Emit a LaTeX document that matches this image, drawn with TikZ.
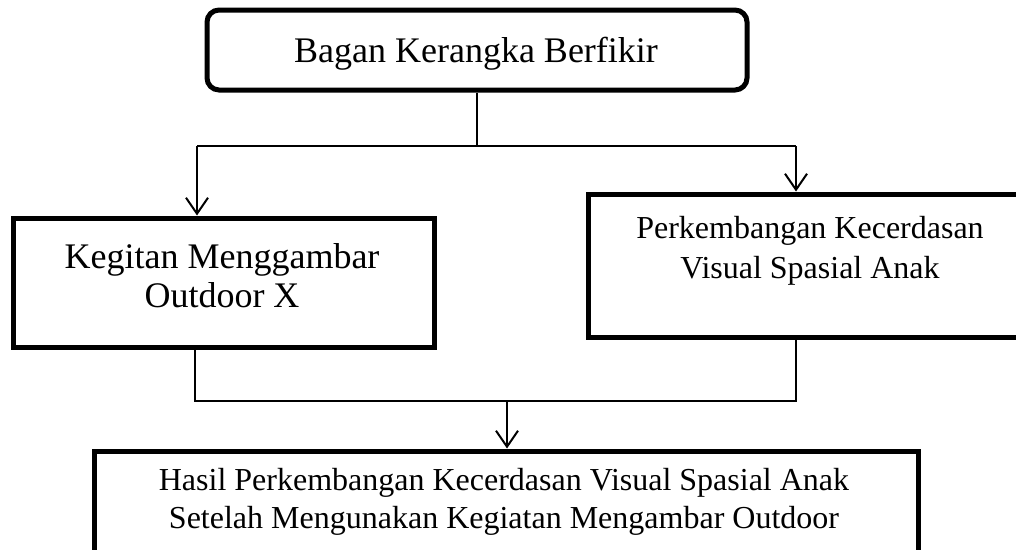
\documentclass[tikz,border=0pt]{standalone}
\usepackage{fontspec}
\setmainfont{Liberation Serif}
\usetikzlibrary{arrows.meta}
\tikzset{
  boxnode/.style={draw, line width=5pt, inner sep=0pt, fill=white},
  roundbox/.style={boxnode, rounded corners=12pt},
  linetxt/.style={inner sep=0pt, anchor=base, font=\fontsize{32}{38}\selectfont},
  bigtxt/.style={linetxt, font=\fontsize{36}{42}\selectfont},
  conn/.style={line width=2pt},
  arr/.style={conn, -{Straight Barb[length=16pt, width=22pt, line width=2pt]}}
}
\begin{document}
\begin{tikzpicture}[x=1pt, y=-1pt]
\useasboundingbox (0,0) rectangle (1016,549);
\clip (0,0) rectangle (1016,549);
% boxes
\node[roundbox, minimum width=540pt, minimum height=80pt] (top) at (477,50) {};
\node[boxnode, minimum width=421pt, minimum height=129pt] (lbox) at (223.5,282.5) {};
\node[boxnode, minimum width=444pt, minimum height=143pt] (rbox) at (810,265.5) {};
\node[boxnode, minimum width=824pt, minimum height=119pt] (bbox) at (506,510.5) {};
% texts
\node[bigtxt] (ttop) at (476,62) {Bagan Kerangka Berfikir};
\node[bigtxt] (tl1) at (222,268) {Kegitan Menggambar};
\node[bigtxt] (tl2) at (222,307) {Outdoor X};
\node[linetxt] (tr1) at (810,238) {Perkembangan Kecerdasan};
\node[linetxt] (tr2) at (810,278) {Visual Spasial Anak};
\node[linetxt] (tb1) at (504,490) {Hasil Perkembangan Kecerdasan Visual Spasial Anak};
\node[linetxt] (tb2) at (504,528) {Setelah Mengunakan Kegiatan Mengambar Outdoor};
% upper connectors
\coordinate (j1) at (477,146);
\coordinate (la) at (197,146);
\coordinate (ra) at (796,146);
\draw[conn] (top.south) -- (j1);
\draw[conn] (la) -- (ra);
\draw[arr] (la) -- (la |- lbox.north);
\draw[arr] (ra) -- (ra |- rbox.north);
% lower connectors
\coordinate (lb) at (195,401);
\coordinate (rb) at (796,401);
\coordinate (j2) at (507,401);
\draw[conn] (lb |- lbox.south) -- (lb) -- (rb) -- (rb |- rbox.south);
\draw[arr] (j2) -- (j2 |- bbox.north);
\end{tikzpicture}
\end{document}
